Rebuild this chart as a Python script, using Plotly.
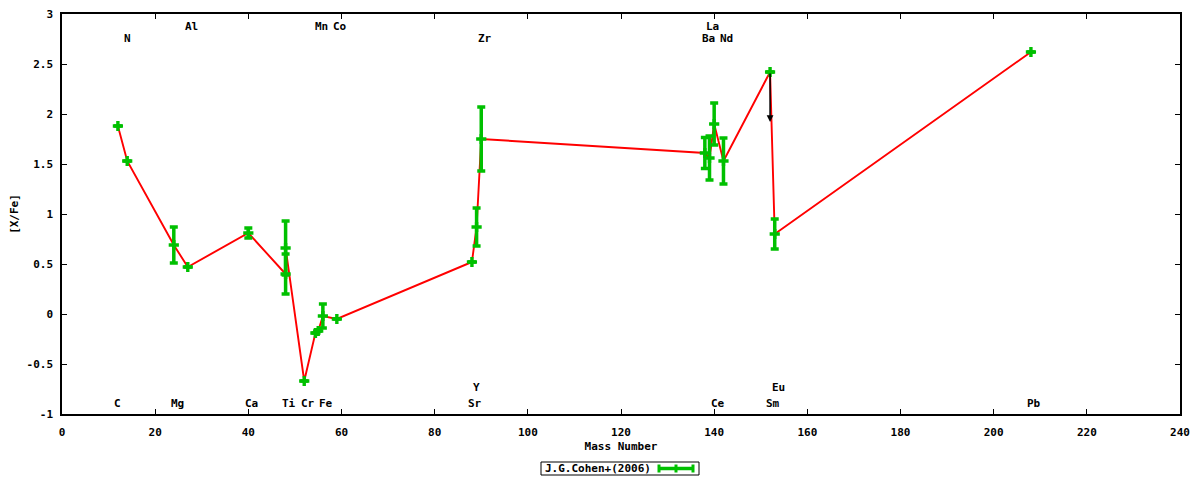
import plotly.graph_objects as go

# abundance pattern, J.G.Cohen+(2006)
elements = ["C", "N", "Mg", "Al", "Ca", "Ti", "Ti", "Cr", "Mn", "Mn", "Fe", "Co",
            "Sr", "Y", "Zr", "Ba", "La", "Ce", "Nd", "Sm", "Eu", "Pb"]
mass = [12, 14, 24, 27, 40, 48, 48, 52, 54.4, 55, 56, 59,
        88, 89, 90, 138, 139, 140, 142, 152, 153, 208]
xfe = [1.88, 1.53, 0.69, 0.47, 0.81, 0.40, 0.66, -0.67, -0.19, -0.17, -0.02, -0.05,
       0.52, 0.87, 1.75, 1.61, 1.56, 1.90, 1.53, 2.42, 0.80, 2.62]
err = [0, 0, 0.18, 0, 0.05, 0.20, 0.27, 0, 0, 0, 0.12, 0,
       0, 0.19, 0.32, 0.155, 0.22, 0.21, 0.23, 0, 0.15, 0]

# upper limit arrow (Sm)
limit_mass = 152
limit_from = 2.42
limit_to = 1.92

# element name labels along top and bottom of the frame
top_hi = [("Al", 27), ("Mn", 55), ("Co", 59), ("La", 139)]
top_lo = [("N", 14), ("Zr", 90), ("Ba", 138), ("Nd", 142)]
bot_hi = [("Y", 89), ("Eu", 153)]
bot_lo = [("C", 12), ("Mg", 24), ("Ca", 40), ("Ti", 48), ("Cr", 52), ("Fe", 56),
          ("Sr", 88), ("Ce", 140), ("Sm", 152), ("Pb", 208)]

xticks = list(range(0, 241, 20))
yticks = [3, 2.5, 2, 1.5, 1, 0.5, 0, -0.5, -1]
yticktext = ["3", "2.5", "2", "1.5", "1", "0.5", "0", "-0.5", "-1"]

legend_name = "J.G.Cohen+(2006)"

GREEN = "#00c000"
FONT = dict(family="DejaVu Sans Mono", size=11, color="black", weight="bold")

# page body has an 8px margin, so the figure is a bit smaller than the window
W, H = 1192, 472
L, R, T, B = 54, 20, 6, 66
PW, PH = W - L - R, H - T - B


def px(x):
    return (x - L) / PW


def py(y):
    return (H - B - y) / PH


fig = go.Figure()

fig.add_trace(go.Scatter(
    x=mass, y=xfe, mode="lines",
    line=dict(color="red", width=1.9),
    hoverinfo="skip", showlegend=False,
))
fig.add_trace(go.Scatter(
    x=mass, y=xfe, mode="markers", name=legend_name,
    marker=dict(symbol="cross", size=8.5, color=GREEN, line=dict(width=0)),
    error_y=dict(type="data", array=err, visible=True, color=GREEN,
                 thickness=3.5, width=4),
    text=elements, showlegend=False,
))

fig.add_annotation(
    x=limit_mass, y=limit_to, ax=limit_mass, ay=limit_from,
    xref="x", yref="y", axref="x", ayref="y",
    text="", showarrow=True, arrowhead=2, arrowsize=0.9,
    arrowwidth=1.5, arrowcolor="black",
)

for rows, yv in ((top_hi, 2.88), (top_lo, 2.76), (bot_hi, -0.73), (bot_lo, -0.89)):
    for name, m in rows:
        fig.add_annotation(
            x=m, y=yv, text=name, showarrow=False, font=FONT,
            xanchor="center", yanchor="middle",
            xshift=3.4 * (len(name) - 1),
        )

# gnuplot style key box below the plot (figure pixel coords)
fig.add_shape(type="rect", xref="paper", yref="paper",
              x0=px(533), x1=px(691), y0=py(454), y1=py(467),
              line=dict(color="black", width=1), fillcolor="white")
fig.add_annotation(x=px(535), y=py(460.5), xref="paper", yref="paper",
                   text=legend_name, showarrow=False, font=FONT,
                   xanchor="left", yanchor="middle")
fig.add_shape(type="line", xref="paper", yref="paper",
              x0=px(650), x1=px(686), y0=py(460.5), y1=py(460.5),
              line=dict(color=GREEN, width=3.5))
for cx in (651, 668, 685):
    fig.add_shape(type="line", xref="paper", yref="paper",
                  x0=px(cx), x1=px(cx), y0=py(456.5), y1=py(464.5),
                  line=dict(color=GREEN, width=3))

fig.update_layout(
    width=W, height=H,
    margin=dict(l=L, r=R, t=T, b=B),
    plot_bgcolor="white", paper_bgcolor="white",
    font=FONT,
    showlegend=False,
    xaxis=dict(
        range=[0, 240], tickvals=xticks, automargin=False,
        ticks="inside", ticklen=5, tickcolor="black", mirror="ticks",
        showline=True, linecolor="black", linewidth=1.5,
        showgrid=False, zeroline=False, tickfont=FONT, ticklabelstandoff=7,
        ticklabeloverflow="allow",
        title=dict(text="Mass Number", font=FONT, standoff=4),
    ),
    yaxis=dict(
        range=[-1, 3], tickvals=yticks, ticktext=yticktext, automargin=False,
        ticks="inside", ticklen=5, tickcolor="black", mirror="ticks",
        showline=True, linecolor="black", linewidth=1.5,
        showgrid=False, zeroline=False, tickfont=FONT, ticklabelstandoff=5,
        ticklabeloverflow="allow",
        title=dict(text="[X/Fe]", font=FONT, standoff=9),
    ),
)

fig.write_html("out.html")
